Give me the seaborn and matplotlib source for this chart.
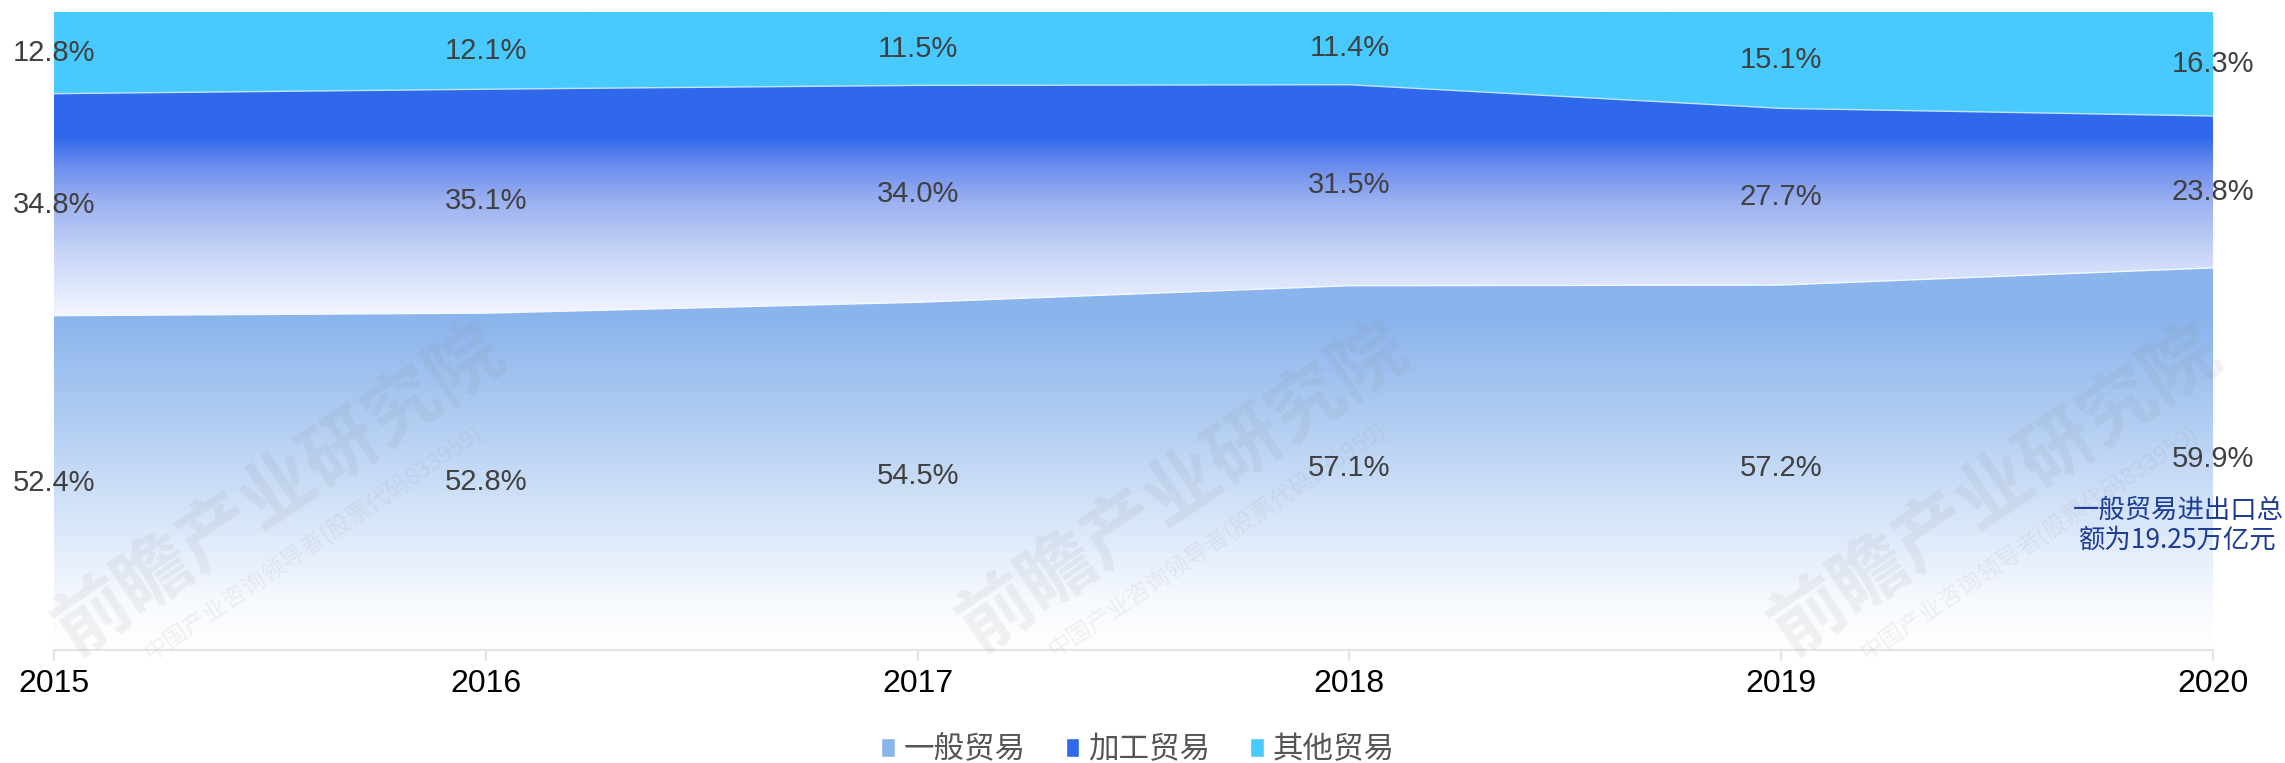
import numpy as np
import pandas as pd
import seaborn as sns
import matplotlib.pyplot as plt
from matplotlib.colors import to_rgb
from matplotlib.patches import PathPatch, Patch

# data (share of total trade, %)
years = [2015, 2016, 2017, 2018, 2019, 2020]
general = [52.4, 52.8, 54.5, 57.1, 57.2, 59.9]
processing = [34.8, 35.1, 34.0, 31.5, 27.7, 23.8]
other = [12.8, 12.1, 11.5, 11.4, 15.1, 16.3]
series_names = ['一般贸易', '加工贸易', '其他贸易']
note_text = '一般贸易进出口总\n额为19.25万亿元'
wm_title = '前瞻产业研究院'
wm_sub = '中国产业咨询领导者(股票代码833959)'

sns.set_style('white')
plt.rcParams['font.family'] = ['Noto Sans CJK SC', 'DejaVu Sans']
NUMFONT = ['Liberation Sans', 'DejaVu Sans']

df = pd.DataFrame({'year': years, 'general': general,
                   'processing': processing, 'other': other})
df['top1'] = df['general']
df['top2'] = df['top1'] + df['processing']
df['top3'] = df['top2'] + df['other']

W, H = 2285, 763
fig = plt.figure(figsize=(W / 100, H / 100), dpi=100)
L, R, T, B = 54, 2213, 12, 650
ax = fig.add_axes([L / W, 1 - B / H, (R - L) / W, (B - T) / H])


def vgrad(stops, n=600):
    # vertical colour ramp over the data range 0..100
    yy = np.linspace(0, 100, n)
    pos = [s[0] for s in stops]
    cols = np.array([to_rgb(s[1]) for s in stops])
    img = np.stack([np.interp(yy, pos, cols[:, k]) for k in range(3)], axis=-1)
    return img[:, None, :]


grads = {
    'general': vgrad([(0, '#ffffff'), (8, '#f6f9fe'), (52, '#8ab4ec'), (100, '#8ab4ec')]),
    'processing': vgrad([(0, '#f3f6fe'), (52.4, '#f3f6fe'), (62, '#c9d6f8'),
                         (70.5, '#9ab0f0'), (76, '#6a8cee'), (80.5, '#3068ec'),
                         (100, '#3068ec')]),
    'other': vgrad([(0, '#48cafe'), (100, '#48cafe')]),
}

bands = [('general', np.zeros(len(years)), df['top1']),
         ('processing', df['top1'], df['top2']),
         ('other', df['top2'], df['top3'])]

for key, lo, hi in bands:
    poly = ax.fill_between(df['year'], lo, hi, facecolor='none',
                           edgecolor='none', linewidth=0)
    patch = PathPatch(poly.get_paths()[0], transform=ax.transData,
                      facecolor='none', edgecolor='none')
    ax.add_patch(patch)
    im = ax.imshow(grads[key], extent=[2015, 2020, 0, 100], origin='lower',
                   aspect='auto', interpolation='bilinear', zorder=1)
    im.set_clip_path(patch)

# thin light seams between the bands
sns.lineplot(data=df, x='year', y='top1', color='#f4f7fe', lw=1.0, ax=ax, zorder=2)
sns.lineplot(data=df, x='year', y='top2', color='#bfe6ff', lw=1.0, ax=ax, zorder=2)

ax.set_xlim(2015, 2020)
ax.set_ylim(0, 100)

# value labels in the middle of each band
for key, lo, hi in bands:
    vals = df[key]
    for x, a, b, v in zip(df['year'], lo, hi, vals):
        ax.text(x, (a + b) / 2, f'{v:.1f}%', ha='center', va='center',
                fontsize=21, color='#404040', family=NUMFONT, clip_on=False,
                zorder=5)

for s in ['top', 'left', 'right']:
    ax.spines[s].set_visible(False)
ax.spines['bottom'].set_color('#e4e4e4')
ax.spines['bottom'].set_linewidth(1.5)
ax.set_xticks(years)
ax.set_xticklabels([str(y) for y in years], family=NUMFONT)
ax.set_yticks([])
ax.tick_params(axis='x', length=8, width=1.5, color='#e4e4e4', pad=6,
               labelsize=23, labelcolor='black', bottom=True)
ax.set_xlabel('')
ax.set_ylabel('')

fig.text(2178 / W, 1 - 525 / H, note_text, ha='center', va='center',
         fontsize=19, color='#1d3d95', linespacing=1.15)

# watermark
for cx, cy in [(280, 491), (1184, 488), (1996, 491)]:
    fig.text(cx / W, 1 - cy / H, wm_title, rotation=34, ha='center',
             va='center', rotation_mode='anchor', fontsize=54,
             fontweight='bold', color='#8a8a8a', alpha=0.11, zorder=10)
    fig.text((cx + 34) / W, 1 - (cy + 52) / H, wm_sub, rotation=34,
             ha='center', va='center', rotation_mode='anchor', fontsize=17,
             color='#8a8a8a', alpha=0.11, zorder=10)

handles = [Patch(facecolor='#8ab4ec'), Patch(facecolor='#3068ec'),
           Patch(facecolor='#48cafe')]
fig.legend(handles, series_names, loc='center',
           bbox_to_anchor=(1138 / W, 1 - 750 / H), ncol=3, frameon=False,
           fontsize=22, handlelength=0.45, handleheight=0.6,
           handletextpad=0.3, columnspacing=1.3, labelcolor='#555555')

fig.savefig('out.png', dpi=100)
